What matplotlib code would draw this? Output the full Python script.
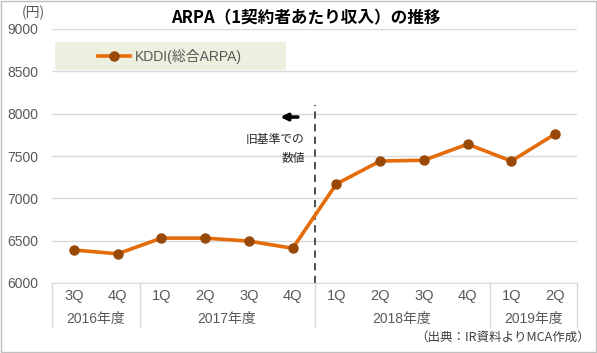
'''
ARPA chart
'''
import numpy as np
import matplotlib.pyplot as plt
from matplotlib.patches import Rectangle

plt.rcParams['font.family'] = ['Noto Sans CJK JP', 'DejaVu Sans']
num_font = ['Liberation Sans', 'Noto Sans CJK JP']

# Data ----------------------------------------------------
quarters = ['3Q', '4Q', '1Q', '2Q', '3Q', '4Q', '1Q', '2Q', '3Q', '4Q', '1Q', '2Q']
years = ['2016年度', '2017年度', '2018年度', '2019年度']
year_counts = [2, 4, 4, 2]
arpa = [6390, 6345, 6530, 6530, 6495, 6410, 7170, 7440, 7450, 7640, 7440, 7760]
y_ticks = [6000, 6500, 7000, 7500, 8000, 8500, 9000]

# Colors:
line_c = '#E46C0A'
marker_c = '#984807'
grid_c = '#D9D9D9'
text_c = '#595959'

# Figure --------------------------------------------------
fig = plt.figure(figsize=(5.97, 3.53), dpi=100)
ax = fig.add_axes([52 / 597, 1 - 283 / 353, 525 / 597, 254 / 353])

x = np.arange(len(arpa))
ax.plot(x, arpa, '-o', color=line_c, lw=2.6, ms=6.5,
        mfc=marker_c, mec=marker_c, zorder=3)

ax.set_xlim(-0.5, len(arpa) - 0.5)
ax.set_ylim(6000, 9000)
ax.set_yticks(y_ticks)
ax.set_yticklabels([str(v) for v in y_ticks], color=text_c, fontsize=10,
                   family=num_font)
ax.tick_params(axis='y', length=0, pad=10)
ax.set_xticks([])
ax.grid(axis='y', color=grid_c, lw=1)
ax.set_axisbelow(True)
for s in ['top', 'right', 'left']:
    ax.spines[s].set_visible(False)
ax.spines['bottom'].set_color(grid_c)

# Regime change line:
ax.axvline(5.5, ymin=0, ymax=(8100 - 6000) / 3000, color='#404040',
           lw=1.3, ls=(0, (4, 3)), zorder=2)
ax.annotate('', xy=(4.72, 7960), xytext=(5.12, 7960),
            arrowprops=dict(arrowstyle='-|>', color='black', lw=2.5,
                            mutation_scale=10, shrinkA=0, shrinkB=0))
ax.text(5.28, 7700, '旧基準での', ha='right', va='center', fontsize=8.5, color='#262626')
ax.text(5.28, 7470, '数値', ha='right', va='center', fontsize=8.5, color='#262626')

# Legend box (drawn by hand):
ax.add_patch(Rectangle((3 / 525, (283 - 70) / 254), 231 / 525, 28 / 254,
                       transform=ax.transAxes, facecolor='#EBF1DE',
                       edgecolor='none', zorder=4))
leg_y = (283 - 56) / 254
ax.plot([46 / 525, 78 / 525], [leg_y, leg_y], transform=ax.transAxes,
        color=line_c, lw=2.6, zorder=5)
ax.plot([62 / 525], [leg_y], 'o', transform=ax.transAxes, ms=6.5,
        mfc=marker_c, mec=marker_c, zorder=6)
ax.text(83 / 525, leg_y, 'KDDI(総合ARPA)', transform=ax.transAxes, ha='left',
        va='center', fontsize=10, color=text_c, family=num_font, zorder=6)

# Category table below axis ------------------------------
trans = ax.get_xaxis_transform()
for i, q in enumerate(quarters):
    ax.text(i, -13 / 254, q, transform=trans, ha='center', va='center',
            fontsize=10.5, color=text_c, family=num_font)
edges = np.concatenate([[0], np.cumsum(year_counts)]) - 0.5
for k, yr in enumerate(years):
    mid = (edges[k] + edges[k + 1]) / 2
    ax.text(mid, -36 / 254, yr, transform=trans, ha='center', va='center',
            fontsize=10, color=text_c, family=num_font)
for e in edges:
    ax.plot([e, e], [0, -44 / 254], transform=trans, color=grid_c, lw=1,
            clip_on=False)

# Titles and notes ----------------------------------------
fig.text(306 / 597, 1 - 18 / 353, 'ARPA（1契約者あたり収入）の推移', ha='center',
         va='center', fontsize=12, fontweight='bold', color='black')
fig.text(33 / 597, 1 - 13 / 353, '(円)', ha='center', va='center',
         fontsize=10, color=text_c)
fig.text(590 / 597, 1 - 337 / 353, '（出典：IR資料よりMCA作成）', ha='right',
         va='center', fontsize=9, color='#404040')

# Border:
fig.patches.append(Rectangle((0.002, 0.003), 0.996, 0.994, transform=fig.transFigure,
                             fill=False, edgecolor='#BFBFBF', lw=1))

plt.savefig('out.png', dpi=100)
